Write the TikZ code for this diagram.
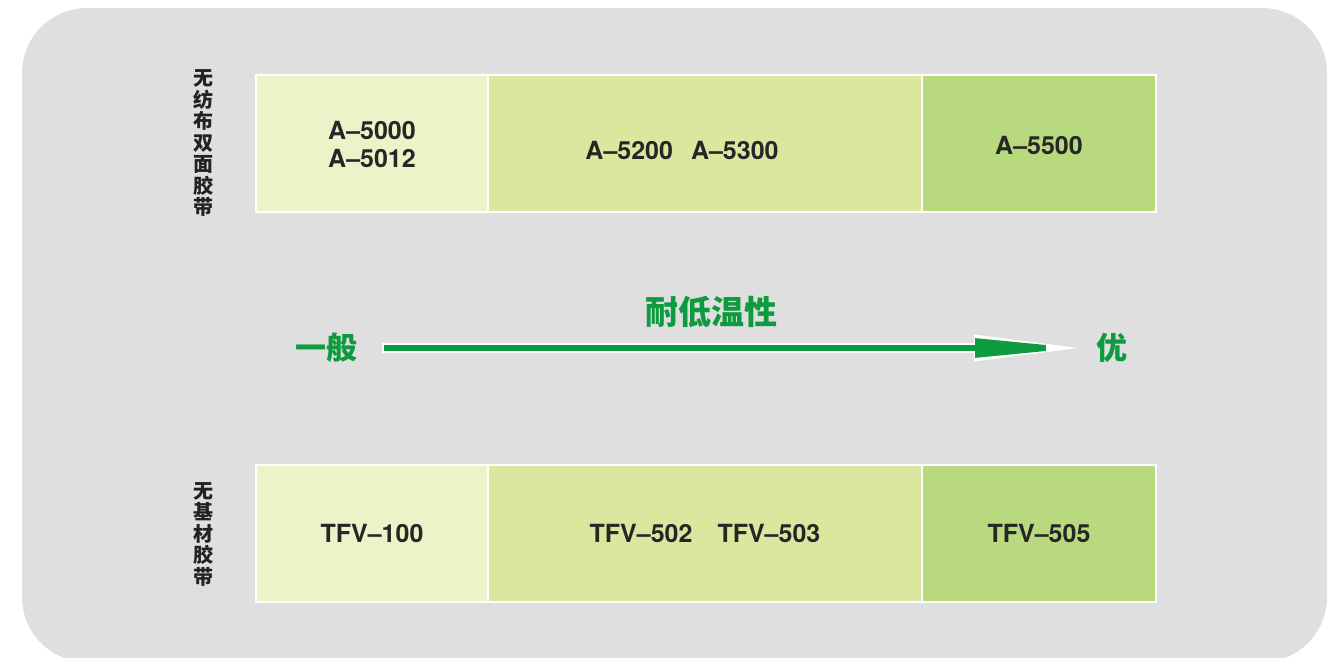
\documentclass[tikz,border=0pt]{standalone}
\usepackage{fontspec}
\setmainfont{TeX Gyre Heros}
\newfontfamily\cjk{Noto Sans CJK SC}
\usetikzlibrary{positioning,arrows.meta}

\definecolor{bggray}{HTML}{DFDFDF}
\definecolor{cellA}{HTML}{EBF3C9}
\definecolor{cellB}{HTML}{DAE89F}
\definecolor{cellC}{HTML}{B9D97F}
\definecolor{arrowgreen}{HTML}{0E9A3E}
\definecolor{labelgray}{HTML}{222222}

\tikzset{
  cell/.style={draw=white, line width=2.5pt, minimum height=137pt, inner sep=0pt, outer sep=0pt, anchor=north west},
  prod/.style={font=\bfseries\fontsize{25}{28}\selectfont, text=black!85, align=center},
  side/.style={font=\cjk\bfseries\fontsize{20}{21.5}\selectfont, text=labelgray, align=center},
  grade/.style={font=\cjk\bfseries\fontsize{31}{31}\selectfont, text=arrowgreen}
}

\begin{document}
\begin{tikzpicture}[x=1pt,y=-1pt]
    \useasboundingbox (0,0) rectangle (1337,657);
    \fill[bggray, rounded corners=65pt] (22,8) rectangle (1327,662);

    % upper row
    \node[cell, fill=cellA, minimum width=232pt] (upA) at (256,75) {};
    \node[cell, fill=cellB, minimum width=434pt, right=0pt of upA.north east, anchor=north west] (upB) {};
    \node[cell, fill=cellC, minimum width=234pt, right=0pt of upB.north east, anchor=north west] (upC) {};
    \node[prod] (a5000) at (372,144) {A--5000\\A--5012};
    \node[prod] (a5200) at (682,150) {A--5200\hspace{18pt}A--5300};
    \node[prod] (a5500) at (1039,145) {A--5500};
    \node[side] (sideup) at (203,143) {无\\纺\\布\\双\\面\\胶\\带};

    % lower row
    \node[cell, fill=cellA, minimum width=232pt] (lowA) at (256,465) {};
    \node[cell, fill=cellB, minimum width=434pt, right=0pt of lowA.north east, anchor=north west] (lowB) {};
    \node[cell, fill=cellC, minimum width=234pt, right=0pt of lowB.north east, anchor=north west] (lowC) {};
    \node[prod] (tfv100) at (372,533) {TFV--100};
    \node[prod] (tfv502) at (705,533) {TFV--502\hspace{25pt}TFV--503};
    \node[prod] (tfv505) at (1039,533) {TFV--505};
    \node[side] (sidelow) at (203,534) {无\\基\\材\\胶\\带};

    % arrow
    \node[grade] (poor) at (326,348) {一般};
    \node[grade] (good) at (1112,348) {优};
    \node[grade, font=\cjk\bfseries\fontsize{33}{33}\selectfont] (title) at (711,312) {耐低温性};
    \coordinate (tailpt) at (382,348);
    \coordinate (tippt) at (1086,348);
    \draw[white, line width=10pt, -{Triangle[length=112pt,width=24pt]}] (tailpt) -- (tippt);
    \draw[arrowgreen, line width=6pt, -{Triangle[length=106pt,width=18pt]}] ([xshift=2pt]tailpt) -- ([xshift=-5pt]tippt);
\end{tikzpicture}
\end{document}
